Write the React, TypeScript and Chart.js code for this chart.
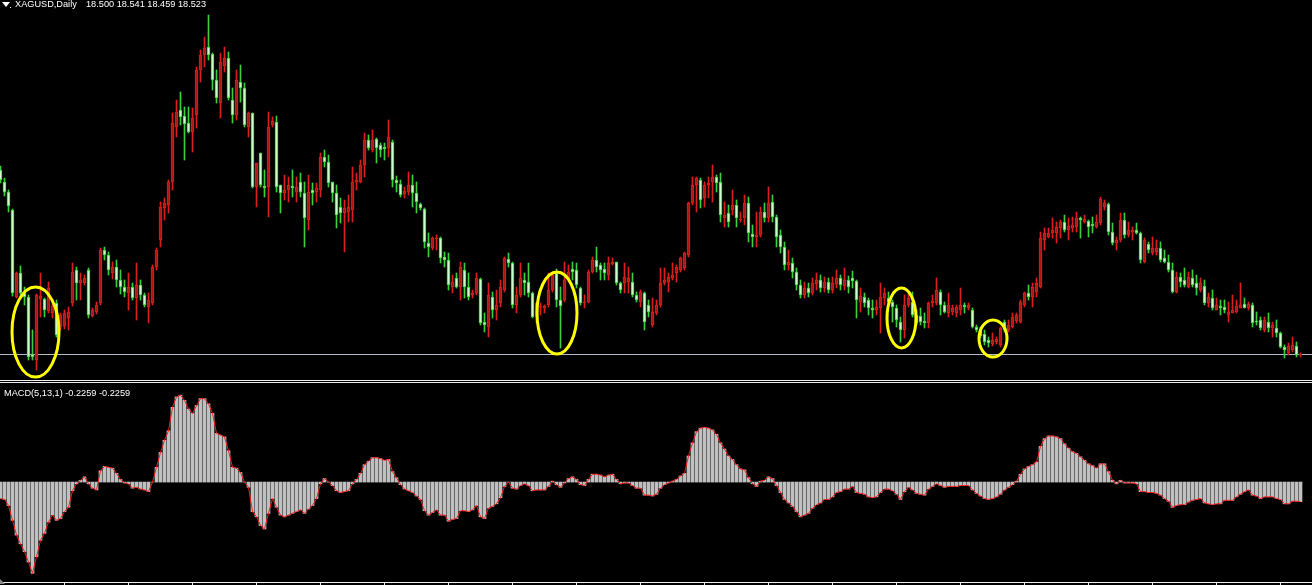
import React, { useEffect, useRef } from "react";
import { Chart, registerables } from "chart.js";

Chart.register(...registerables);

// ---------- header texts ----------
const symbolTitle = "XAGUSD,Daily";
const lastQuote = ["18.500", "18.541", "18.459", "18.523"];
const macdTitle = "MACD(5,13,1)";
const macdReadout = ["-0.2259", "-0.2259"];

// ---------- daily candles (XAGUSD) ----------
const opens = [
  22.20, 21.96, 21.76, 21.40, 19.66, 20.14, 19.74, 19.66, 18.52, 18.40,
  19.62, 19.62, 19.38, 19.34, 19.54, 19.06, 19.08, 19.24, 19.54, 20.20,
  19.94, 19.94, 20.20, 19.28, 19.36, 19.54, 20.60, 20.50, 20.14, 20.26,
  20.00, 19.86, 19.74, 19.86, 19.64, 19.90, 19.70, 19.46, 19.54, 20.26,
  20.80, 21.44, 21.50, 21.96, 23.06, 23.40, 23.28, 23.14, 22.96, 23.30,
  24.20, 24.50, 24.66, 24.52, 24.00, 23.54, 24.28, 24.44, 23.60, 23.30,
  23.96, 23.84, 23.06, 23.34, 21.86, 22.54, 21.88, 21.86, 23.10, 23.16,
  21.90, 21.74, 21.80, 21.88, 21.76, 21.96, 21.74, 21.20, 21.80, 21.76,
  21.80, 22.46, 22.36, 21.96, 21.74, 21.46, 21.34, 21.36, 21.40, 21.96,
  21.96, 22.30, 22.80, 22.60, 22.82, 22.70, 22.66, 22.64, 22.76, 22.00,
  21.92, 21.72, 21.76, 21.90, 21.74, 21.52, 21.42, 20.74, 20.64, 20.82,
  20.84, 20.46, 20.40, 19.86, 20.04, 19.86, 20.20, 19.86, 19.70, 19.74,
  20.02, 19.16, 19.06, 19.66, 19.40, 19.54, 19.80, 20.42, 20.34, 19.50,
  19.70, 20.00, 19.96, 19.74, 19.26, 19.46, 19.44, 19.50, 19.80, 20.14,
  19.60, 19.60, 20.00, 20.22, 20.20, 19.84, 19.54, 19.56, 20.16, 20.40,
  20.30, 20.22, 20.10, 20.32, 20.36, 19.94, 19.94, 19.96, 19.96, 19.70,
  19.56, 19.74, 19.50, 19.10, 19.34, 19.50, 19.94, 19.96, 20.04, 20.14,
  20.20, 20.24, 20.50, 21.54, 21.90, 22.00, 21.64, 21.90, 21.96, 22.06,
  21.96, 21.24, 21.34, 21.40, 21.50, 21.20, 21.24, 21.54, 20.92, 20.86,
  20.90, 21.36, 21.24, 21.56, 21.26, 20.90, 20.66, 20.30, 20.34, 20.16,
  19.90, 19.70, 19.84, 19.74, 19.92, 20.00, 19.84, 19.96, 19.80, 19.92,
  20.04, 19.88, 20.00, 20.04, 19.98, 19.56, 19.66, 19.60, 19.44, 19.40,
  19.44, 19.64, 19.64, 19.56, 19.44, 19.16, 19.00, 19.50, 19.56, 19.30,
  19.28, 19.18, 19.14, 19.54, 19.54, 19.76, 19.50, 19.34, 19.36, 19.34,
  19.40, 19.50, 19.44, 19.40, 19.06, 19.00, 18.92, 18.80, 18.72, 18.76,
  18.70, 19.16, 19.00, 19.06, 19.18, 19.16, 19.50, 19.74, 19.66, 19.76,
  19.86, 20.80, 20.86, 20.94, 20.94, 21.04, 21.16, 21.00, 21.04, 21.06,
  21.24, 21.16, 21.18, 21.12, 21.06, 21.14, 21.46, 21.52, 20.96, 20.74,
  20.80, 21.20, 20.90, 20.96, 21.00, 20.94, 20.36, 20.72, 20.54, 20.56,
  20.64, 20.44, 20.36, 20.20, 19.76, 20.06, 20.00, 19.86, 20.04, 19.94,
  19.80, 19.88, 19.54, 19.64, 19.40, 19.48, 19.46, 19.30, 19.34, 19.36,
  19.44, 19.52, 19.44, 19.50, 19.18, 19.20, 19.00, 19.16, 19.04, 19.04,
  18.94, 18.66, 18.54, 18.60, 18.68, 18.500,
];

const highs = [
  22.28, 22.04, 21.80, 21.42, 20.16, 20.28, 19.86, 19.70, 19.00, 19.72,
  20.14, 19.64, 19.96, 19.60, 19.60, 19.34, 19.40, 19.46, 20.34, 20.26,
  20.14, 20.10, 20.24, 19.44, 19.56, 20.64, 20.66, 20.56, 20.36, 20.40,
  20.20, 20.00, 20.14, 19.94, 20.34, 20.00, 19.74, 19.74, 20.30, 20.64,
  21.56, 21.64, 22.00, 23.34, 23.60, 23.76, 23.46, 23.46, 23.44, 24.26,
  24.60, 24.86, 25.30, 24.54, 24.20, 24.54, 24.66, 24.56, 23.84, 24.20,
  24.30, 23.94, 23.36, 23.34, 22.34, 22.54, 22.20, 23.36, 23.26, 23.28,
  21.90, 22.10, 22.06, 22.20, 22.06, 22.14, 21.96, 22.10, 21.94, 21.94,
  22.54, 22.60, 22.50, 21.96, 21.90, 21.64, 21.60, 21.70, 22.26, 22.14,
  22.40, 22.94, 22.90, 23.00, 22.84, 22.74, 22.74, 23.20, 22.80, 22.08,
  22.00, 21.86, 22.16, 22.10, 21.96, 21.54, 21.44, 20.94, 20.86, 20.90,
  20.86, 20.56, 20.54, 20.10, 20.14, 20.36, 20.34, 20.14, 19.80, 20.14,
  20.04, 19.34, 19.94, 19.76, 19.80, 20.00, 20.46, 20.54, 20.36, 19.86,
  20.34, 20.14, 20.34, 19.76, 19.56, 19.54, 19.50, 20.14, 20.14, 20.22,
  19.86, 20.36, 20.30, 20.36, 20.34, 19.86, 19.70, 20.20, 20.46, 20.66,
  20.34, 20.34, 20.46, 20.44, 20.36, 19.96, 20.34, 20.26, 20.14, 19.76,
  19.80, 19.76, 19.60, 19.64, 19.60, 20.24, 20.24, 20.14, 20.34, 20.30,
  20.46, 20.56, 21.56, 22.06, 22.06, 22.04, 21.96, 22.06, 22.30, 22.10,
  22.14, 21.56, 21.50, 21.80, 21.60, 21.36, 21.70, 21.66, 21.10, 21.36,
  21.46, 21.54, 21.86, 21.70, 21.30, 21.00, 20.76, 20.60, 20.44, 20.24,
  20.00, 19.96, 19.94, 20.04, 20.14, 20.10, 20.06, 20.04, 20.06, 20.20,
  20.10, 20.24, 20.08, 20.18, 20.00, 19.84, 19.74, 19.64, 19.60, 19.60,
  19.94, 19.84, 19.76, 19.60, 19.50, 19.26, 19.70, 19.74, 19.76, 19.40,
  19.44, 19.34, 19.56, 19.70, 20.04, 19.80, 19.56, 19.74, 19.50, 19.50,
  19.84, 19.54, 19.54, 19.44, 19.10, 19.06, 19.00, 18.86, 18.94, 18.86,
  19.06, 19.20, 19.20, 19.34, 19.34, 19.60, 19.76, 19.90, 19.94, 20.04,
  20.96, 21.04, 21.04, 21.24, 21.16, 21.20, 21.30, 21.24, 21.26, 21.36,
  21.26, 21.30, 21.20, 21.26, 21.30, 21.66, 21.60, 21.54, 21.14, 20.86,
  21.34, 21.34, 21.16, 21.06, 21.14, 20.96, 20.84, 20.76, 20.86, 20.80,
  20.76, 20.60, 20.50, 20.34, 20.16, 20.14, 20.24, 20.16, 20.20, 20.10,
  20.04, 20.00, 19.74, 19.80, 19.64, 19.60, 19.60, 19.56, 19.70, 19.60,
  19.94, 19.64, 19.56, 19.54, 19.36, 19.26, 19.26, 19.34, 19.16, 19.20,
  18.96, 18.70, 18.74, 18.86, 18.76, 18.541,
];

const lows = [
  21.94, 21.68, 21.36, 19.68, 19.64, 19.66, 19.50, 18.40, 18.40, 18.20,
  19.26, 19.26, 19.34, 19.24, 18.86, 19.00, 19.02, 19.00, 19.48, 19.60,
  19.60, 19.90, 19.24, 19.26, 19.32, 19.50, 20.40, 20.10, 20.02, 19.86,
  19.72, 19.66, 19.40, 19.60, 19.20, 19.60, 19.46, 19.14, 19.50, 20.20,
  20.66, 21.20, 21.34, 21.80, 22.86, 23.10, 22.40, 22.94, 22.56, 23.04,
  23.96, 24.26, 24.40, 23.80, 23.54, 23.24, 24.16, 23.60, 23.14, 23.20,
  23.56, 23.06, 22.86, 21.84, 21.46, 21.86, 21.66, 21.26, 23.06, 21.76,
  21.34, 21.60, 21.56, 21.66, 21.56, 21.66, 20.66, 21.00, 21.50, 21.56,
  21.66, 22.26, 21.86, 21.56, 21.04, 21.14, 20.56, 21.16, 21.16, 21.80,
  21.94, 22.06, 22.60, 22.56, 22.34, 22.46, 22.40, 22.46, 21.86, 21.76,
  21.66, 21.64, 21.70, 21.46, 21.34, 21.40, 20.64, 20.46, 20.60, 20.60,
  20.34, 20.26, 19.80, 19.74, 19.84, 19.60, 19.64, 19.60, 19.64, 19.70,
  19.10, 18.96, 18.86, 19.24, 19.20, 19.46, 19.76, 20.26, 19.44, 19.34,
  19.66, 19.70, 19.66, 19.24, 19.14, 19.30, 19.34, 19.46, 19.76, 19.46,
  18.64, 19.56, 19.96, 20.00, 19.84, 19.50, 19.44, 19.54, 20.14, 20.16,
  20.00, 20.00, 20.00, 20.30, 19.90, 19.74, 19.74, 19.74, 19.66, 19.56,
  19.46, 19.00, 19.26, 19.06, 19.30, 19.46, 19.90, 19.76, 20.00, 19.96,
  20.16, 20.20, 20.46, 21.50, 21.36, 21.44, 21.46, 21.64, 21.56, 21.76,
  21.16, 21.06, 21.06, 21.30, 21.06, 21.16, 21.10, 20.76, 20.66, 20.66,
  20.86, 21.16, 21.16, 21.16, 20.66, 20.54, 20.20, 20.20, 20.04, 19.80,
  19.64, 19.64, 19.66, 19.70, 19.80, 19.76, 19.76, 19.74, 19.74, 19.84,
  19.80, 19.80, 19.74, 19.84, 19.24, 19.36, 19.46, 19.30, 19.24, 19.30,
  18.94, 19.50, 19.50, 19.16, 19.06, 18.76, 18.84, 19.46, 19.26, 19.10,
  19.10, 19.04, 19.04, 19.46, 19.50, 19.30, 19.34, 19.26, 19.30, 19.26,
  19.30, 19.34, 19.40, 19.04, 18.96, 18.84, 18.70, 18.66, 18.68, 18.72,
  18.66, 18.96, 18.96, 19.04, 19.14, 19.14, 19.46, 19.60, 19.46, 19.66,
  19.84, 20.60, 20.84, 20.84, 20.74, 20.84, 20.96, 20.80, 20.96, 20.96,
  20.84, 21.14, 20.86, 20.94, 21.04, 21.10, 21.40, 20.90, 20.70, 20.60,
  20.76, 20.84, 20.86, 20.80, 20.92, 20.34, 20.34, 20.54, 20.50, 20.50,
  20.36, 20.34, 20.16, 19.74, 19.74, 19.86, 19.86, 19.84, 19.86, 19.70,
  19.76, 19.50, 19.46, 19.40, 19.40, 19.30, 19.34, 19.16, 19.34, 19.34,
  19.44, 19.44, 19.40, 19.06, 19.10, 19.00, 18.96, 18.96, 18.86, 18.86,
  18.64, 18.44, 18.50, 18.56, 18.46, 18.459,
];

const closes = [
  22.00, 21.76, 21.48, 19.74, 20.14, 19.74, 19.66, 18.46, 18.46, 19.70,
  19.68, 19.40, 19.84, 19.48, 18.90, 19.30, 19.34, 19.36, 20.16, 19.94,
  20.00, 20.04, 19.30, 19.40, 19.50, 20.60, 20.50, 20.20, 20.26, 20.00,
  19.86, 19.76, 19.86, 19.64, 19.90, 19.70, 19.50, 19.60, 20.26, 20.60,
  21.46, 21.54, 21.96, 23.14, 23.36, 23.26, 23.12, 22.96, 23.24, 24.20,
  24.50, 24.64, 24.50, 24.00, 23.64, 24.36, 24.44, 23.64, 23.30, 24.00,
  23.84, 23.10, 23.34, 21.86, 22.34, 21.90, 21.84, 23.06, 23.18, 21.86,
  21.74, 21.80, 21.90, 21.84, 21.86, 21.76, 21.24, 21.76, 21.74, 21.84,
  22.46, 22.36, 21.94, 21.74, 21.30, 21.34, 21.44, 21.46, 21.96, 22.00,
  22.30, 22.80, 22.64, 22.80, 22.64, 22.60, 22.62, 22.86, 22.00, 21.94,
  21.70, 21.78, 21.90, 21.74, 21.56, 21.44, 20.76, 20.66, 20.84, 20.84,
  20.44, 20.40, 19.90, 19.96, 19.86, 20.26, 19.86, 19.66, 19.74, 20.04,
  19.14, 19.10, 19.70, 19.40, 19.50, 19.86, 20.44, 20.34, 19.50, 19.70,
  20.04, 19.94, 19.74, 19.26, 19.54, 19.48, 19.48, 19.80, 20.10, 19.60,
  19.48, 20.00, 20.16, 20.16, 19.90, 19.54, 19.56, 20.16, 20.40, 20.26,
  20.20, 20.14, 20.34, 20.36, 19.94, 19.80, 20.06, 20.04, 19.70, 19.60,
  19.76, 19.16, 19.36, 19.36, 19.50, 19.94, 20.00, 20.06, 20.10, 20.26,
  20.44, 20.54, 21.54, 21.90, 22.04, 21.60, 21.90, 21.94, 22.06, 21.94,
  21.30, 21.30, 21.16, 21.50, 21.24, 21.22, 21.54, 20.94, 20.86, 20.90,
  21.36, 21.24, 21.54, 21.26, 20.86, 20.66, 20.30, 20.36, 20.16, 19.90,
  19.70, 19.84, 19.74, 19.94, 20.00, 19.84, 19.96, 19.80, 19.94, 20.04,
  19.90, 20.00, 19.86, 19.98, 19.60, 19.68, 19.54, 19.44, 19.40, 19.46,
  19.66, 19.74, 19.56, 19.46, 19.20, 19.00, 19.50, 19.64, 19.30, 19.14,
  19.16, 19.14, 19.54, 19.58, 19.80, 19.50, 19.36, 19.50, 19.44, 19.46,
  19.50, 19.46, 19.50, 19.06, 19.00, 18.88, 18.76, 18.74, 18.80, 18.82,
  19.04, 19.00, 19.10, 19.26, 19.30, 19.56, 19.74, 19.66, 19.86, 19.94,
  20.84, 20.94, 20.94, 21.00, 21.06, 21.16, 21.00, 21.08, 21.10, 21.24,
  21.20, 21.22, 21.06, 21.08, 21.16, 21.62, 21.54, 20.96, 20.74, 20.80,
  21.20, 20.90, 21.00, 21.00, 20.94, 20.40, 20.80, 20.60, 20.64, 20.64,
  20.40, 20.36, 20.20, 19.76, 20.06, 19.96, 19.90, 20.06, 19.90, 19.84,
  19.94, 19.54, 19.66, 19.44, 19.50, 19.44, 19.40, 19.36, 19.40, 19.48,
  19.50, 19.44, 19.52, 19.14, 19.16, 19.04, 19.20, 19.04, 19.10, 18.94,
  18.66, 18.60, 18.68, 18.70, 18.50, 18.523,
];

// ---------- MACD(5,13,1) histogram ----------
const macdValues = [
  -0.19, -0.20, -0.27, -0.44, -0.61, -0.71, -0.80, -0.92, -1.05, -0.86,
  -0.67, -0.59, -0.46, -0.38, -0.44, -0.42, -0.34, -0.29, -0.10, -0.02,
  0.02, 0.06, -0.02, -0.07, -0.09, 0.13, 0.18, 0.17, 0.16, 0.10,
  0.03, -0.01, -0.02, -0.07, -0.06, -0.08, -0.09, -0.11, 0.00, 0.17,
  0.34, 0.48, 0.59, 0.86, 0.98, 1.00, 0.94, 0.84, 0.79, 0.88,
  0.96, 0.96, 0.90, 0.79, 0.56, 0.54, 0.52, 0.36, 0.17, 0.16,
  0.11, 0.00, -0.06, -0.34, -0.40, -0.50, -0.54, -0.36, -0.19, -0.29,
  -0.38, -0.40, -0.38, -0.36, -0.34, -0.32, -0.36, -0.31, -0.27, -0.19,
  -0.02, 0.04, 0.00, -0.04, -0.10, -0.12, -0.11, -0.10, -0.02, 0.03,
  0.10, 0.20, 0.24, 0.28, 0.28, 0.27, 0.25, 0.26, 0.12, 0.05,
  -0.03, -0.08, -0.10, -0.12, -0.16, -0.20, -0.33, -0.38, -0.35, -0.32,
  -0.38, -0.38, -0.45, -0.43, -0.42, -0.33, -0.33, -0.34, -0.32, -0.27,
  -0.40, -0.42, -0.30, -0.28, -0.25, -0.18, -0.05, 0.00, -0.07, -0.08,
  -0.04, -0.02, -0.04, -0.10, -0.09, -0.09, -0.09, -0.05, 0.01, -0.03,
  -0.06, -0.01, 0.04, 0.06, 0.03, -0.03, -0.04, 0.03, 0.09, 0.09,
  0.08, 0.06, 0.08, 0.09, 0.03, -0.02, -0.01, -0.01, -0.04, -0.07,
  -0.07, -0.15, -0.15, -0.16, -0.14, -0.07, -0.03, -0.01, 0.01, 0.03,
  0.07, 0.10, 0.30, 0.45, 0.58, 0.62, 0.63, 0.62, 0.60, 0.55,
  0.45, 0.38, 0.30, 0.26, 0.20, 0.15, 0.14, 0.05, -0.02, -0.05,
  0.01, 0.02, 0.06, 0.04, -0.04, -0.12, -0.20, -0.24, -0.28, -0.34,
  -0.40, -0.38, -0.36, -0.30, -0.26, -0.24, -0.20, -0.20, -0.17, -0.12,
  -0.11, -0.08, -0.08, -0.05, -0.12, -0.13, -0.14, -0.17, -0.18, -0.17,
  -0.12, -0.08, -0.08, -0.10, -0.14, -0.20, -0.11, -0.06, -0.09, -0.13,
  -0.14, -0.15, -0.08, -0.05, -0.02, -0.04, -0.06, -0.05, -0.05, -0.05,
  -0.04, -0.04, -0.04, -0.09, -0.13, -0.16, -0.19, -0.20, -0.19, -0.17,
  -0.14, -0.09, -0.06, -0.03, 0.01, 0.09, 0.15, 0.18, 0.20, 0.23,
  0.41, 0.50, 0.53, 0.53, 0.52, 0.50, 0.44, 0.39, 0.35, 0.33,
  0.29, 0.25, 0.21, 0.19, 0.16, 0.21, 0.21, 0.12, 0.02, -0.02,
  0.02, -0.01, -0.01, -0.01, -0.02, -0.11, -0.11, -0.12, -0.12, -0.13,
  -0.15, -0.19, -0.22, -0.29, -0.27, -0.26, -0.26, -0.23, -0.21, -0.20,
  -0.19, -0.24, -0.25, -0.26, -0.25, -0.25, -0.21, -0.21, -0.21, -0.17,
  -0.14, -0.11, -0.09, -0.15, -0.16, -0.19, -0.17, -0.17, -0.17, -0.19,
  -0.20, -0.25, -0.25, -0.22, -0.22, -0.2259,
];

// horizontal level drawn on the price panel
const supportLevel = 18.52;

// yellow circles: centre bar, centre price, half width (bars), half height (price)
const circleBars = [8.75, 139.125, 225.25, 248.125];
const circlePrices = [18.96, 19.34, 19.24, 18.83];
const circleHalfBars = [5.875, 5.0, 3.625, 3.5];
const circleHalfPrices = [0.9, 0.82, 0.6, 0.37];

const FONT = '"Liberation Sans", Arial, sans-serif';

export default function App() {
  const priceRef = useRef<HTMLCanvasElement | null>(null);
  const macdRef = useRef<HTMLCanvasElement | null>(null);

  useEffect(() => {
    const xMin = -0.125;
    const xMax = 327.875;
    const UP_EDGE = "#dc1e1e";
    const UP_FILL = "#b01414";
    const DN_EDGE = "#3ccf3c";
    const DN_FILL = "#c8ffc8";

    const isUp = closes.map((c, i) => c >= opens[i]);
    const edge = isUp.map((u) => (u ? UP_EDGE : DN_EDGE));
    const fill = isUp.map((u) => (u ? UP_FILL : DN_FILL));

    const overlay = {
      id: "overlay",
      beforeDatasetsDraw(chart: any) {
        const { ctx, scales, chartArea } = chart;
        const y = Math.round(scales.y.getPixelForValue(supportLevel)) + 0.5;
        ctx.save();
        ctx.strokeStyle = "#b4bccc";
        ctx.lineWidth = 1;
        ctx.beginPath();
        ctx.moveTo(chartArea.left, y);
        ctx.lineTo(chartArea.right, y);
        ctx.stroke();
        ctx.restore();
      },
      afterDatasetsDraw(chart: any) {
        const { ctx, scales } = chart;
        ctx.save();
        ctx.strokeStyle = "#ffff00";
        ctx.lineWidth = 3;
        circleBars.forEach((b, k) => {
          const cx = scales.x.getPixelForValue(b);
          const cy = scales.y.getPixelForValue(circlePrices[k]);
          const rx = scales.x.getPixelForValue(b + circleHalfBars[k]) - cx;
          const ry = cy - scales.y.getPixelForValue(circlePrices[k] + circleHalfPrices[k]);
          ctx.beginPath();
          ctx.ellipse(cx, cy, rx, ry, 0, 0, Math.PI * 2);
          ctx.stroke();
        });
        ctx.restore();
      },
    };

    const priceChart = new Chart(priceRef.current as HTMLCanvasElement, {
      type: "bar",
      data: {
        datasets: [
          {
            label: "body",
            data: closes.map((c, i) => ({ x: i, y: [opens[i], c] })) as any,
            backgroundColor: fill,
            borderColor: edge,
            borderWidth: 1,
            borderSkipped: false,
            barThickness: 3,
            minBarLength: 1,
            grouped: false,
            order: 0,
          } as any,
          {
            label: "wick",
            data: closes.map((_, i) => ({ x: i, y: [lows[i], highs[i]] })) as any,
            backgroundColor: edge,
            borderWidth: 0,
            barThickness: 1,
            minBarLength: 1,
            grouped: false,
            order: 1,
          } as any,
        ],
      },
      options: {
        responsive: false,
        maintainAspectRatio: false,
        animation: false,
        devicePixelRatio: 1,
        layout: { padding: 0 },
        plugins: { legend: { display: false }, tooltip: { enabled: false } },
        scales: {
          x: { type: "linear", min: xMin, max: xMax, display: false, offset: false },
          y: { min: 18.0, max: 25.6, display: false },
        },
      } as any,
      plugins: [overlay],
    });

    const macdChart = new Chart(macdRef.current as HTMLCanvasElement, {
      type: "bar",
      data: {
        datasets: [
          {
            type: "line",
            label: "signal",
            data: macdValues.map((v, i) => ({ x: i, y: v })) as any,
            borderColor: "#ff1a1a",
            borderWidth: 1,
            pointRadius: 0,
            tension: 0,
            fill: false,
            order: 0,
          } as any,
          {
            label: "macd",
            data: macdValues.map((v, i) => ({ x: i, y: v })) as any,
            backgroundColor: "#c0c0c0",
            borderWidth: 0,
            barThickness: 3,
            grouped: false,
            order: 1,
          } as any,
        ],
      },
      options: {
        responsive: false,
        maintainAspectRatio: false,
        animation: false,
        devicePixelRatio: 1,
        layout: { padding: 0 },
        plugins: { legend: { display: false }, tooltip: { enabled: false } },
        scales: {
          x: { type: "linear", min: xMin, max: xMax, display: false, offset: false },
          y: { min: -1.15, max: 1.14, display: false },
        },
      } as any,
    });

    return () => {
      priceChart.destroy();
      macdChart.destroy();
    };
  }, []);

  const textStyle: React.CSSProperties = {
    position: "absolute",
    color: "#ffffff",
    fontFamily: FONT,
    fontSize: "9.2px",
    lineHeight: "10px",
    whiteSpace: "pre",
  };

  return (
    <div
      style={{
        position: "relative",
        width: 1312,
        height: 585,
        background: "#000",
        overflow: "hidden",
      }}
    >
      <style>{"html,body{margin:0;padding:0;background:#000;overflow:hidden;}"}</style>
      <canvas
        ref={priceRef}
        width={1312}
        height={380}
        style={{ position: "absolute", left: 0, top: 0, width: 1312, height: 380 }}
      />
      <canvas
        ref={macdRef}
        width={1312}
        height={199}
        style={{ position: "absolute", left: 0, top: 383, width: 1312, height: 199 }}
      />
      {/* panel separators */}
      <div style={{ position: "absolute", left: 0, top: 380, width: 1312, height: 1, background: "#f0f0f0" }} />
      <div style={{ position: "absolute", left: 0, top: 382, width: 1312, height: 1, background: "#f0f0f0" }} />
      <div style={{ position: "absolute", left: 0, top: 582, width: 1312, height: 1, background: "#f0f0f0" }} />
      {Array.from({ length: 20 }, (_, k) => (
        <div
          key={k}
          style={{ position: "absolute", left: 64 * (k + 1), top: 582, width: 1, height: 3, background: "#f0f0f0" }}
        />
      ))}
      <div
        style={{
          position: "absolute",
          left: 0,
          top: 579,
          width: 0,
          height: 0,
          borderLeft: "5px solid #8a8a8a",
          borderTop: "5px solid transparent",
        }}
      />
      {/* header */}
      <div
        style={{
          position: "absolute",
          left: 2,
          top: 2,
          width: 0,
          height: 0,
          borderLeft: "4px solid transparent",
          borderRight: "4px solid transparent",
          borderTop: "5px solid #ffffff",
        }}
      />
      <div style={{ position: "absolute", left: 10, top: 7, width: 1, height: 1, background: "#ffffff" }} />
      <div style={{ ...textStyle, left: 15, top: -0.7 }}>{symbolTitle}</div>
      <div style={{ ...textStyle, left: 86, top: -0.7 }}>{lastQuote.join(" ")}</div>
      <div style={{ ...textStyle, left: 4, top: 387.8 }}>
        {macdTitle + " " + macdReadout.join(" ")}
      </div>
    </div>
  );
}
